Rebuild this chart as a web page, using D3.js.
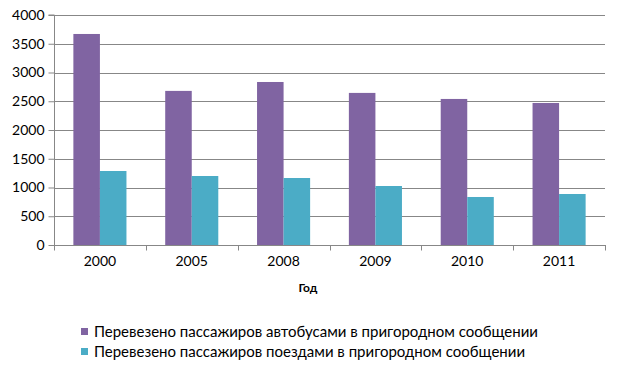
<!DOCTYPE html>
<html><head><meta charset="utf-8">
<script src="https://cdn.jsdelivr.net/npm/d3@7"></script>
<style>body{margin:0;background:#fff}svg{display:block}</style>
</head><body>
<script>
const years = ["2000","2005","2008","2009","2010","2011"];
const busValues = [3670, 2680, 2835, 2645, 2540, 2470];
const trainValues = [1287, 1200, 1165, 1026, 835, 887];
const yTicks = [0,500,1000,1500,2000,2500,3000,3500,4000];
const seriesNames = ["Перевезено пассажиров автобусами в пригородном сообщении","Перевезено пассажиров поездами в пригородном сообщении"];
const colors = ["#8064A2","#4BACC6"];

const W=617,H=365;
const svg=d3.select("body").append("svg").attr("width",W).attr("height",H);
const L=54,R=605,T=15,B=245;
const x=d3.scaleBand().domain(years).range([L,R]).paddingInner(0).paddingOuter(0);
const y=d3.scaleLinear().domain([0,4000]).range([B,T]);
const font="Lato, 'Open Sans', sans-serif";
const grid="#878787";

// gridlines
svg.append("g").selectAll("line").data(yTicks.filter(d=>d>0)).join("line")
 .attr("x1",L).attr("x2",R).attr("y1",d=>Math.round(y(d))+0.5).attr("y2",d=>Math.round(y(d))+0.5)
 .attr("stroke",grid).attr("stroke-width",1);

const bw=x.bandwidth()*0.289;
const data=years.map((yr,i)=>({yr,vals:[busValues[i],trainValues[i]]}));
const g=svg.append("g");
data.forEach(d=>{
  const c=x(d.yr)+x.bandwidth()/2;
  d.vals.forEach((v,k)=>{
    g.append("rect").attr("x",c-bw+k*bw).attr("width",bw)
     .attr("y",y(v)).attr("height",y(0)-y(v)).attr("fill",colors[k]);
  });
});

// y axis
const ya=svg.append("g").attr("transform",`translate(${L+0.5},0)`)
 .call(d3.axisLeft(y).tickValues(yTicks).tickSize(6).tickPadding(4).tickFormat(d3.format("d")));
ya.select(".domain").attr("stroke",grid).attr("d",`M-6,${y(4000)}H0V${y(0)}`);
ya.selectAll(".tick line").attr("stroke",grid);
ya.selectAll(".tick text").attr("font-family",font).attr("font-size","14px").attr("fill","#000").attr("x",-10);

// x axis
const xa=svg.append("g").attr("transform",`translate(0,${Math.round(B)+0.5})`);
xa.append("line").attr("x1",L).attr("x2",R+1).attr("stroke",grid);
xa.selectAll("line.tk").data(years.concat(["end"])).join("line").attr("class","tk")
 .attr("x1",(d,i)=>Math.round(L+i*x.bandwidth())+0.5).attr("x2",(d,i)=>Math.round(L+i*x.bandwidth())+0.5)
 .attr("y1",0).attr("y2",5).attr("stroke",grid);
xa.selectAll("text").data(years).join("text")
 .attr("x",d=>x(d)+x.bandwidth()/2).attr("y",20.5).attr("text-anchor","middle")
 .attr("font-family",font).attr("font-size","14px").text(d=>d);

svg.append("text").attr("x",308).attr("y",292).attr("text-anchor","middle")
 .attr("font-family",font).attr("font-size","12px").attr("font-weight","bold").text("Год");

// legend
seriesNames.forEach((n,i)=>{
  const yy=328+i*20;
  svg.append("rect").attr("x",81).attr("y",yy).attr("width",7).attr("height",7).attr("fill",colors[i]);
  svg.append("text").attr("x",94).attr("y",yy+9).attr("font-family",font).attr("font-size","15px").text(n);
});
</script>
</body></html>
